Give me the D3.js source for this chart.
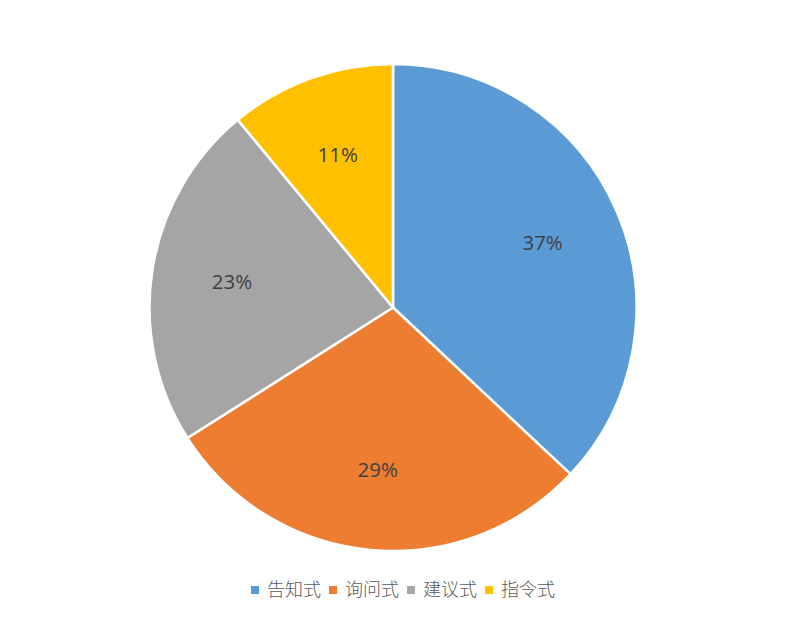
<!DOCTYPE html>
<html>
<head>
<meta charset="utf-8">
<script src="https://cdn.jsdelivr.net/npm/d3@7"></script>
<style>
  body { margin: 0; background: #fff; }
</style>
</head>
<body>
<div id="chart"></div>
<script>
var categories = ["告知式", "询问式", "建议式", "指令式"];
var values = [37, 29, 23, 11];
var colors = ["#5b9bd5", "#ed7d31", "#a5a5a5", "#ffc000"];

var w = 802, h = 620;
var cx = 393, cy = 307.5;
var outerRadius = 243.5;
var labelRadius = 163;

var svg = d3.select("#chart").append("svg")
    .attr("width", w)
    .attr("height", h);

var pie = d3.pie().sort(null);
var arc = d3.arc().innerRadius(0).outerRadius(outerRadius);
var labelArc = d3.arc().innerRadius(labelRadius).outerRadius(labelRadius);
var color = d3.scaleOrdinal().domain(categories).range(colors);

var g = svg.append("g").attr("transform", "translate(" + cx + "," + cy + ")");

var arcs = g.selectAll("g.arc")
    .data(pie(values))
    .enter()
    .append("g")
    .attr("class", "arc");

arcs.append("path")
    .attr("fill", (d, i) => color(categories[i]))
    .attr("stroke", "#fff")
    .attr("stroke-width", 2.5)
    .attr("stroke-linejoin", "round")
    .attr("d", arc);

arcs.append("text")
    .attr("transform", d => "translate(" + labelArc.centroid(d) + ")")
    .attr("text-anchor", "middle")
    .attr("dy", "0.36em")
    .attr("font-family", "'Open Sans', 'Liberation Sans', sans-serif")
    .attr("font-size", 20.5)
    .attr("fill", "#404040")
    .text(d => d.value + "%");

// legend
var legendX = d3.scaleBand().domain(categories).range([249, 561]);
var legend = svg.append("g").selectAll("g")
    .data(categories)
    .enter()
    .append("g")
    .attr("transform", d => "translate(" + legendX(d) + ",590)");

legend.append("rect")
    .attr("x", 2).attr("y", -4)
    .attr("width", 8).attr("height", 8)
    .attr("fill", d => color(d));

legend.append("text")
    .attr("x", 18)
    .attr("dy", "0.36em")
    .attr("font-family", "'Noto Sans CJK SC', sans-serif")
    .attr("font-weight", 300)
    .attr("font-size", 18)
    .attr("fill", "#595959")
    .text(d => d);
</script>
</body>
</html>
